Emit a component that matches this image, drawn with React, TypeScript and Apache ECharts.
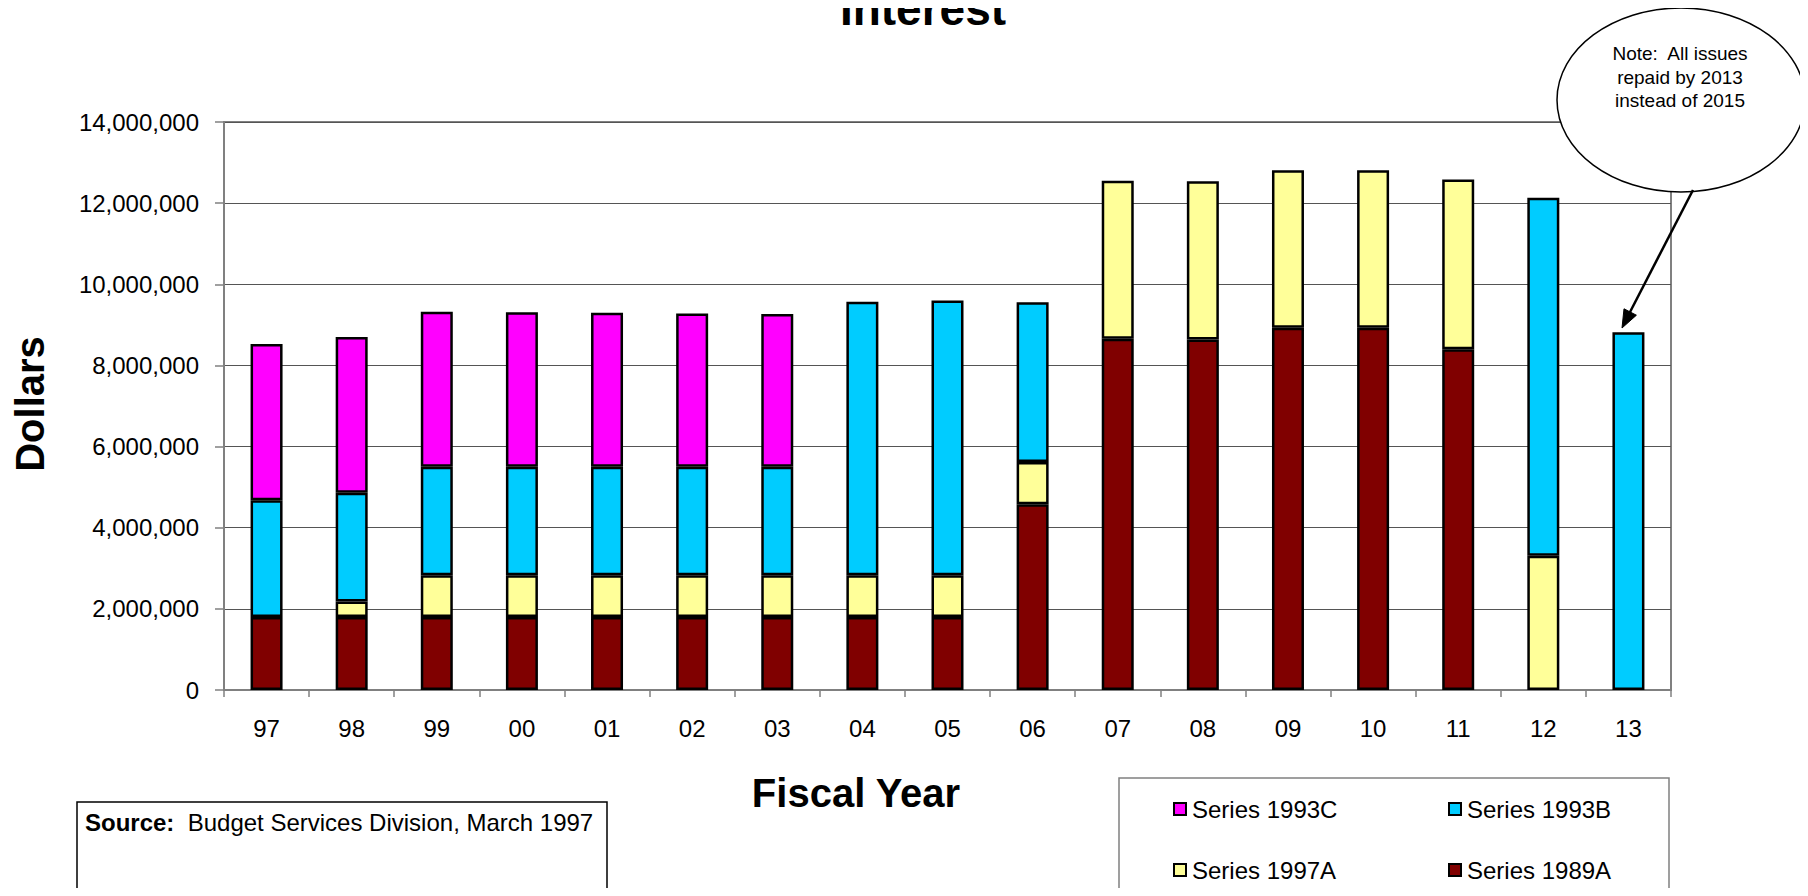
import React, { useEffect, useRef } from "react";
import * as echarts from "echarts";

const years = ["97", "98", "99", "00", "01", "02", "03", "04", "05", "06", "07", "08", "09", "10", "11", "12", "13"];
const series1989A = [1800000, 1800000, 1800000, 1800000, 1800000, 1800000, 1800000, 1800000, 1800000, 4580000, 8660000, 8640000, 8930000, 8930000, 8400000, null, null];
const series1997A = [null, 380000, 1030000, 1030000, 1030000, 1030000, 1030000, 1030000, 1030000, 1040000, 3890000, 3900000, 3880000, 3880000, 4180000, 3310000, null];
const series1993B = [2880000, 2680000, 2670000, 2670000, 2670000, 2670000, 2670000, 6740000, 6770000, 3940000, null, null, null, null, null, 8820000, 8820000];
const series1993C = [3850000, 3840000, 3820000, 3810000, 3800000, 3780000, 3770000, null, null, null, null, null, null, null, null, null, null];
const seriesNames = ["Series 1993C", "Series 1993B", "Series 1997A", "Series 1989A"];
const seriesColors = ["#FF00FF", "#00CCFF", "#FFFF99", "#800000"];

const FONT = "'Liberation Sans', Arial, sans-serif";

export default function App() {
  const ref = useRef<HTMLDivElement>(null);
  useEffect(() => {
    if (!ref.current) return;
    const chart = echarts.init(ref.current, null, { renderer: "svg" });
    const dataBySeries = [series1993C, series1993B, series1997A, series1989A];
    const stackOrder = [3, 2, 1, 0];
    const series = stackOrder.map((i) => ({
      name: seriesNames[i],
      type: "bar",
      stack: "total",
      barWidth: 32,
      data: dataBySeries[i],
      itemStyle: { color: seriesColors[i], borderColor: "#000", borderWidth: 2.5 },
    }));
    const legendPos = [
      { left: 1173, top: 797 },
      { left: 1448, top: 797 },
      { left: 1173, top: 858 },
      { left: 1448, top: 858 },
    ];
    const legends = seriesNames.map((n, i) => ({
      data: [n],
      left: legendPos[i].left,
      top: legendPos[i].top,
      itemWidth: 12,
      itemHeight: 12,
      itemGap: 0,
      padding: 0,
      selectedMode: false,
      icon: "rect",
      itemStyle: { borderColor: "#000", borderWidth: 2 },
      textStyle: { fontFamily: FONT, fontSize: 24, color: "#000", padding: [0, 0, 0, 1] },
    }));
    chart.setOption({
      animation: false,
      backgroundColor: "#fff",
      grid: {
        left: 224, right: 137, top: 122, bottom: 206,
        show: true, borderColor: "#808080", borderWidth: 2, backgroundColor: "#fff",
      },
      legend: legends,
      xAxis: {
        type: "category",
        data: years,
        axisLine: { lineStyle: { color: "#808080", width: 2 } },
        axisTick: { show: true, alignWithLabel: false, length: 7, lineStyle: { color: "#808080", width: 1.5 } },
        axisLabel: { fontFamily: FONT, fontSize: 24, color: "#000", margin: 26 },
        splitLine: { show: false },
      },
      yAxis: {
        type: "value",
        min: 0,
        max: 14000000,
        interval: 2000000,
        axisLine: { show: true, lineStyle: { color: "#808080", width: 2 } },
        axisTick: { show: true, length: 9, lineStyle: { color: "#808080", width: 1.5 } },
        axisLabel: {
          fontFamily: FONT, fontSize: 24, color: "#000", margin: 25,
          formatter: (v: number) => v.toLocaleString("en-US"),
        },
        splitLine: { show: true, lineStyle: { color: "#555", width: 1.2 } },
      },
      series,
      graphic: [
        { type: "text", x: 923, y: -14, style: { text: "Interest", font: `bold 46px ${FONT}`, fill: "#000", textAlign: "center", textVerticalAlign: "top" } },
        { type: "text", x: 30, y: 404, rotation: Math.PI / 2, style: { text: "Dollars", font: `bold 40px ${FONT}`, fill: "#000", textAlign: "center", textVerticalAlign: "middle" } },
        { type: "text", x: 856, y: 793, style: { text: "Fiscal Year", font: `bold 40px ${FONT}`, fill: "#000", textAlign: "center", textVerticalAlign: "middle" } },
        { type: "rect", shape: { x: 77, y: 802, width: 530, height: 91 }, style: { fill: "#fff", stroke: "#000", lineWidth: 1.5 } },
        {
          type: "text", x: 85, y: 822,
          style: {
            text: "{b|Source:}  Budget Services Division, March 1997",
            font: `24px ${FONT}`, fill: "#000", textVerticalAlign: "middle",
            rich: { b: { fontWeight: "bold", fontSize: 24, fontFamily: FONT } },
          },
        },
        { type: "rect", z: -1, shape: { x: 1119, y: 778, width: 550, height: 130 }, style: { fill: "#fff", stroke: "#808080", lineWidth: 1.5 } },
        { type: "ellipse", z: 50, shape: { cx: 1681, cy: 100, rx: 124, ry: 92 }, style: { fill: "#fff", stroke: "#000", lineWidth: 1.5 } },
        {
          type: "text", z: 51, x: 1680, y: 77,
          style: {
            text: "Note:  All issues\nrepaid by 2013\ninstead of 2015",
            font: `19px ${FONT}`, fill: "#000", textAlign: "center", textVerticalAlign: "middle", lineHeight: 23.5,
          },
        },
        { type: "line", z: 50, shape: { x1: 1693, y1: 190, x2: 1629, y2: 314 }, style: { stroke: "#000", lineWidth: 2.5 } },
        { type: "polygon", z: 50, shape: { points: [[1622, 328], [1636.4, 315.2], [1624.0, 308.8]] }, style: { fill: "#000", stroke: "#000", lineWidth: 1 } },
      ],
    });
    return () => chart.dispose();
  }, []);
  return <div ref={ref} style={{ width: 1808, height: 896, margin: -8 }} />;
}
